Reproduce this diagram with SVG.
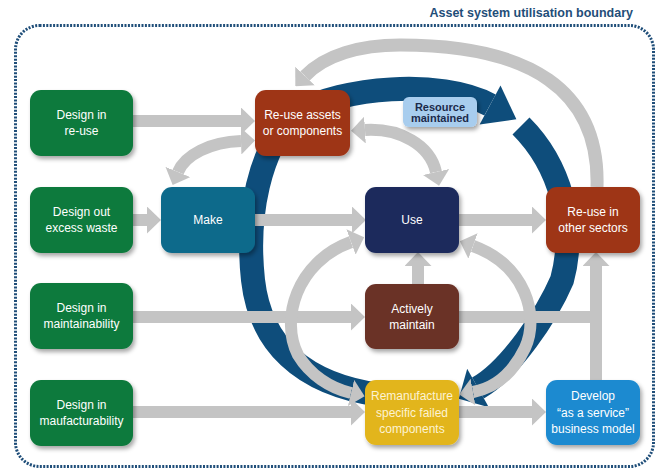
<svg xmlns="http://www.w3.org/2000/svg" width="655" height="473" viewBox="0 0 655 473">
<defs>
<style>
.box{stroke:none;filter:url(#sh)}
.t{font-family:"Liberation Sans",Arial,sans-serif;font-size:12px;fill:#ffffff;text-anchor:middle}
.g{fill:none;stroke:#c4c4c4;stroke-width:12}
.b{fill:none;stroke:#0e4d7b;stroke-width:24}
.green{fill:#117a3d}
.rust{fill:#9e3418}
</style>
<filter id="sh" x="-20%" y="-20%" width="150%" height="150%">
<feDropShadow dx="2" dy="3" stdDeviation="2" flood-color="#000" flood-opacity="0.35"/>
</filter>
<marker id="ah" markerUnits="userSpaceOnUse" markerWidth="14" markerHeight="27" viewBox="0 0 14 27" refX="0" refY="13.5" orient="auto-start-reverse">
<path d="M0,0 L14,13.5 L0,27 Z" fill="#c4c4c4"/>
</marker>
</defs>
<rect width="655" height="473" fill="#ffffff"/>
<rect x="15.5" y="25.5" width="638" height="441" rx="24" fill="none" stroke="#1f4e79" stroke-width="3" stroke-dasharray="2 1.4"/>
<text x="633" y="17" style="font-family:'Liberation Sans',Arial,sans-serif;font-size:12.5px;font-weight:bold;fill:#1f4e79;text-anchor:end">Asset system utilisation boundary</text>

<g id="ring">
<path class="b" d="M 295 112 C 259 150, 246 215, 253 280 C 260 342, 300 384, 380 395"/>
<path class="b" d="M 300 112 C 340 88, 440 78, 490 105"/>
<polygon points="479.6,124.4 500.5,85.6 516.4,119.3" fill="#0e4d7b"/>
<path class="b" d="M 521 126 C 560 165, 577 225, 562 280 C 547 315, 510 370, 478 388"/>
<polygon points="488.8,407.2 467.2,368.8 458.8,398.8" fill="#0e4d7b"/>
</g>

<g id="connectors">
<path class="g" d="M133 121 H241" marker-end="url(#ah)"/>
<path class="g" d="M133 220 H147" marker-end="url(#ah)"/>
<path class="g" d="M255 220 H352" marker-end="url(#ah)"/>
<path class="g" d="M459 220 H532" marker-end="url(#ah)"/>
<path class="g" d="M133 317 H351" marker-end="url(#ah)"/>
<path class="g" d="M133 412 H351" marker-end="url(#ah)"/>
<path class="g" d="M459 412 H532" marker-end="url(#ah)"/>
<path class="g" d="M418 284 V266" marker-end="url(#ah)"/>
<path class="g" d="M459 317 H602"/>
<path class="g" d="M596 380 V266" marker-end="url(#ah)"/>
<path class="g" d="M 241 141 C 210 142, 185 155, 178 172" marker-start="url(#ah)" marker-end="url(#ah)"/>
<path class="g" d="M 365 130 C 400 128, 430 145, 436 172" marker-start="url(#ah)" marker-end="url(#ah)"/>
<path class="g" style="stroke-width:13" d="M 597 187 C 600 90, 530 45, 400 45 C 360 45, 325 55, 305 76" marker-end="url(#ah)"/>
<path class="g" d="M 351 242 C 296 262, 280 320, 298 355 C 310 375, 330 388, 351 393" marker-start="url(#ah)" marker-end="url(#ah)"/>
<path class="g" d="M 473 246 C 525 265, 540 315, 525 348 C 512 375, 495 388, 473 392" marker-start="url(#ah)" marker-end="url(#ah)"/>
</g>

<g id="design-reuse"><rect class="box green" x="30" y="90" width="103" height="66" rx="11"/><text class="t" x="81.5" y="119">Design in</text><text class="t" x="81.5" y="135">re-use</text></g>
<g id="design-waste"><rect class="box green" x="30" y="187" width="103" height="66" rx="11"/><text class="t" x="81.5" y="216">Design out</text><text class="t" x="81.5" y="232">excess waste</text></g>
<g id="design-maint"><rect class="box green" x="30" y="283" width="103" height="66" rx="11"/><text class="t" x="81.5" y="312">Design in</text><text class="t" x="81.5" y="328">maintainability</text></g>
<g id="design-manuf"><rect class="box green" x="30" y="380" width="103" height="66" rx="11"/><text class="t" x="81.5" y="409">Design in</text><text class="t" x="81.5" y="425">maufacturability</text></g>
<g id="make"><rect class="box" fill="#0b6a8b" x="161" y="187" width="94" height="66" rx="11"/><text class="t" x="208" y="224">Make</text></g>
<g id="reuse-assets"><rect class="box rust" x="255" y="90" width="95" height="66" rx="11"/><text class="t" x="302.5" y="119">Re-use assets</text><text class="t" x="302.5" y="135">or components</text></g>
<g id="use"><rect class="box" fill="#1b2a5c" x="365" y="187" width="94" height="66" rx="11"/><text class="t" x="412" y="224">Use</text></g>
<g id="reuse-other"><rect class="box rust" x="546" y="187" width="94" height="66" rx="11"/><text class="t" x="593" y="216">Re-use in</text><text class="t" x="593" y="232">other sectors</text></g>
<g id="actively"><rect class="box" fill="#6a3128" x="365" y="284" width="94" height="65" rx="11"/><text class="t" x="412" y="313">Actively</text><text class="t" x="412" y="329">maintain</text></g>
<g id="reman"><rect class="box" fill="#e2b51c" x="365" y="380" width="94" height="65" rx="11"/><text class="t" x="412" y="400" style="fill:#fdf3d2">Remanufacture</text><text class="t" x="412" y="416.5" style="fill:#fdf3d2">specific failed</text><text class="t" x="412" y="433" style="fill:#fdf3d2">components</text></g>
<g id="develop"><rect class="box" fill="#1b8ad0" x="546" y="380" width="94" height="65" rx="11"/><text class="t" x="593" y="400">Develop</text><text class="t" x="593" y="416.5">“as a service”</text><text class="t" x="593" y="433">business model</text></g>
<g id="resource"><rect class="box" fill="#a8cdee" x="403" y="97" width="74" height="30" rx="6"/><text x="440" y="110.5" style="font-family:'Liberation Sans',Arial,sans-serif;font-size:11px;font-weight:bold;fill:#1b2a4a;text-anchor:middle">Resource</text><text x="440" y="122" style="font-family:'Liberation Sans',Arial,sans-serif;font-size:11px;font-weight:bold;fill:#1b2a4a;text-anchor:middle">maintained</text></g>
</svg>
